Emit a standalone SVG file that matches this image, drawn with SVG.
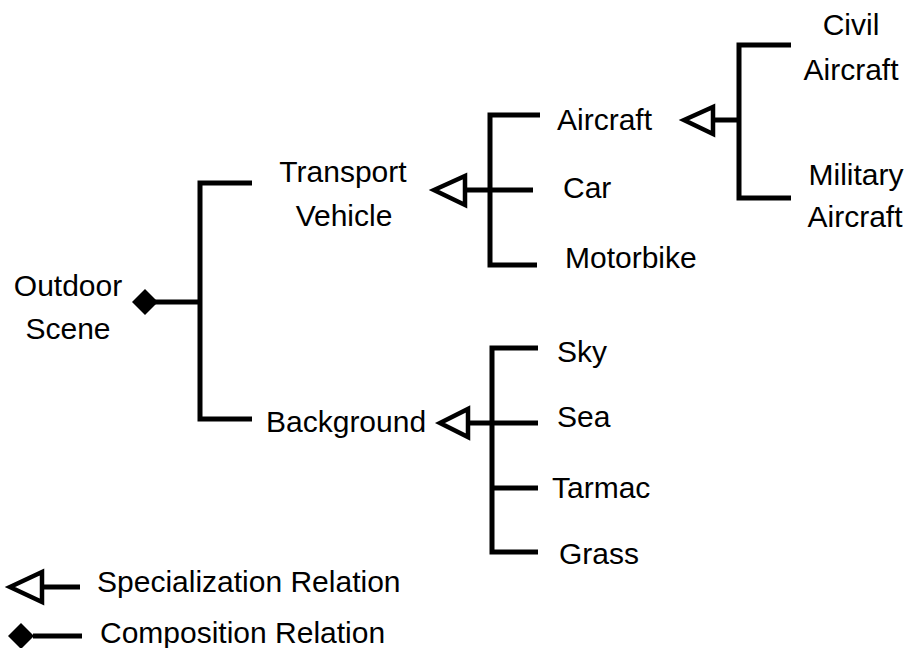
<svg xmlns="http://www.w3.org/2000/svg" width="908" height="648" viewBox="0 0 908 648">
<style>
text{font-family:"Liberation Sans",Arial,Helvetica,sans-serif;font-size:30px;fill:#000}
.c{text-anchor:middle}
.l{stroke:#000;stroke-width:5;fill:none;stroke-linecap:butt;stroke-linejoin:miter}
.tri{stroke:#000;stroke-width:4.5;fill:#fff;stroke-linejoin:miter}
.dia{fill:#000;stroke:none}
</style>
<rect width="908" height="648" fill="#fff"/>
<g id="connectors">
<polyline class="l" points="252,183 200,183 200,419 252,419"/>
<line class="l" x1="154" y1="302" x2="200" y2="302"/>
<polygon class="dia" points="132,302 145,289 158,302 145,315"/>
<polyline class="l" points="540,115 490,115 490,265 537,265"/>
<line class="l" x1="464" y1="190" x2="533" y2="190"/>
<polygon class="tri" points="434,190 465,176 465,205"/>
<polyline class="l" points="791,45 739,45 739,198 791,198"/>
<line class="l" x1="712" y1="120" x2="739" y2="120"/>
<polygon class="tri" points="684,120 713,107 713,134"/>
<polyline class="l" points="538,348 492,348 492,552 538,552"/>
<line class="l" x1="467" y1="423" x2="538" y2="423"/>
<line class="l" x1="492" y1="488" x2="538" y2="488"/>
<polygon class="tri" points="440,423 468,409 468,437"/>
</g>
<g id="node-outdoor"><text class="c" x="68" y="296">Outdoor</text><text class="c" x="68" y="339">Scene</text></g>
<g id="node-transport"><text class="c" x="343" y="182">Transport</text><text class="c" x="344" y="226">Vehicle</text></g>
<g id="node-background"><text x="266" y="432">Background</text></g>
<g id="node-aircraft"><text x="557" y="130">Aircraft</text></g>
<g id="node-car"><text x="563" y="198">Car</text></g>
<g id="node-motorbike"><text x="565" y="268">Motorbike</text></g>
<g id="node-civil"><text class="c" x="851" y="35">Civil</text><text class="c" x="851" y="80">Aircraft</text></g>
<g id="node-military"><text class="c" x="856" y="185">Military</text><text class="c" x="855" y="227">Aircraft</text></g>
<g id="node-sky"><text x="557" y="362">Sky</text></g>
<g id="node-sea"><text x="557" y="427">Sea</text></g>
<g id="node-tarmac"><text x="552" y="498">Tarmac</text></g>
<g id="node-grass"><text x="559" y="564">Grass</text></g>
<g id="legend">
<line class="l" x1="40" y1="587" x2="80" y2="587"/>
<polygon class="tri" points="10,587 42,572 42,602"/>
<text x="97" y="592">Specialization Relation</text>
<line class="l" x1="33" y1="636" x2="82" y2="636"/>
<polygon class="dia" points="8,636 21,623 34,636 21,649"/>
<text x="100" y="643">Composition Relation</text>
</g>
</svg>
